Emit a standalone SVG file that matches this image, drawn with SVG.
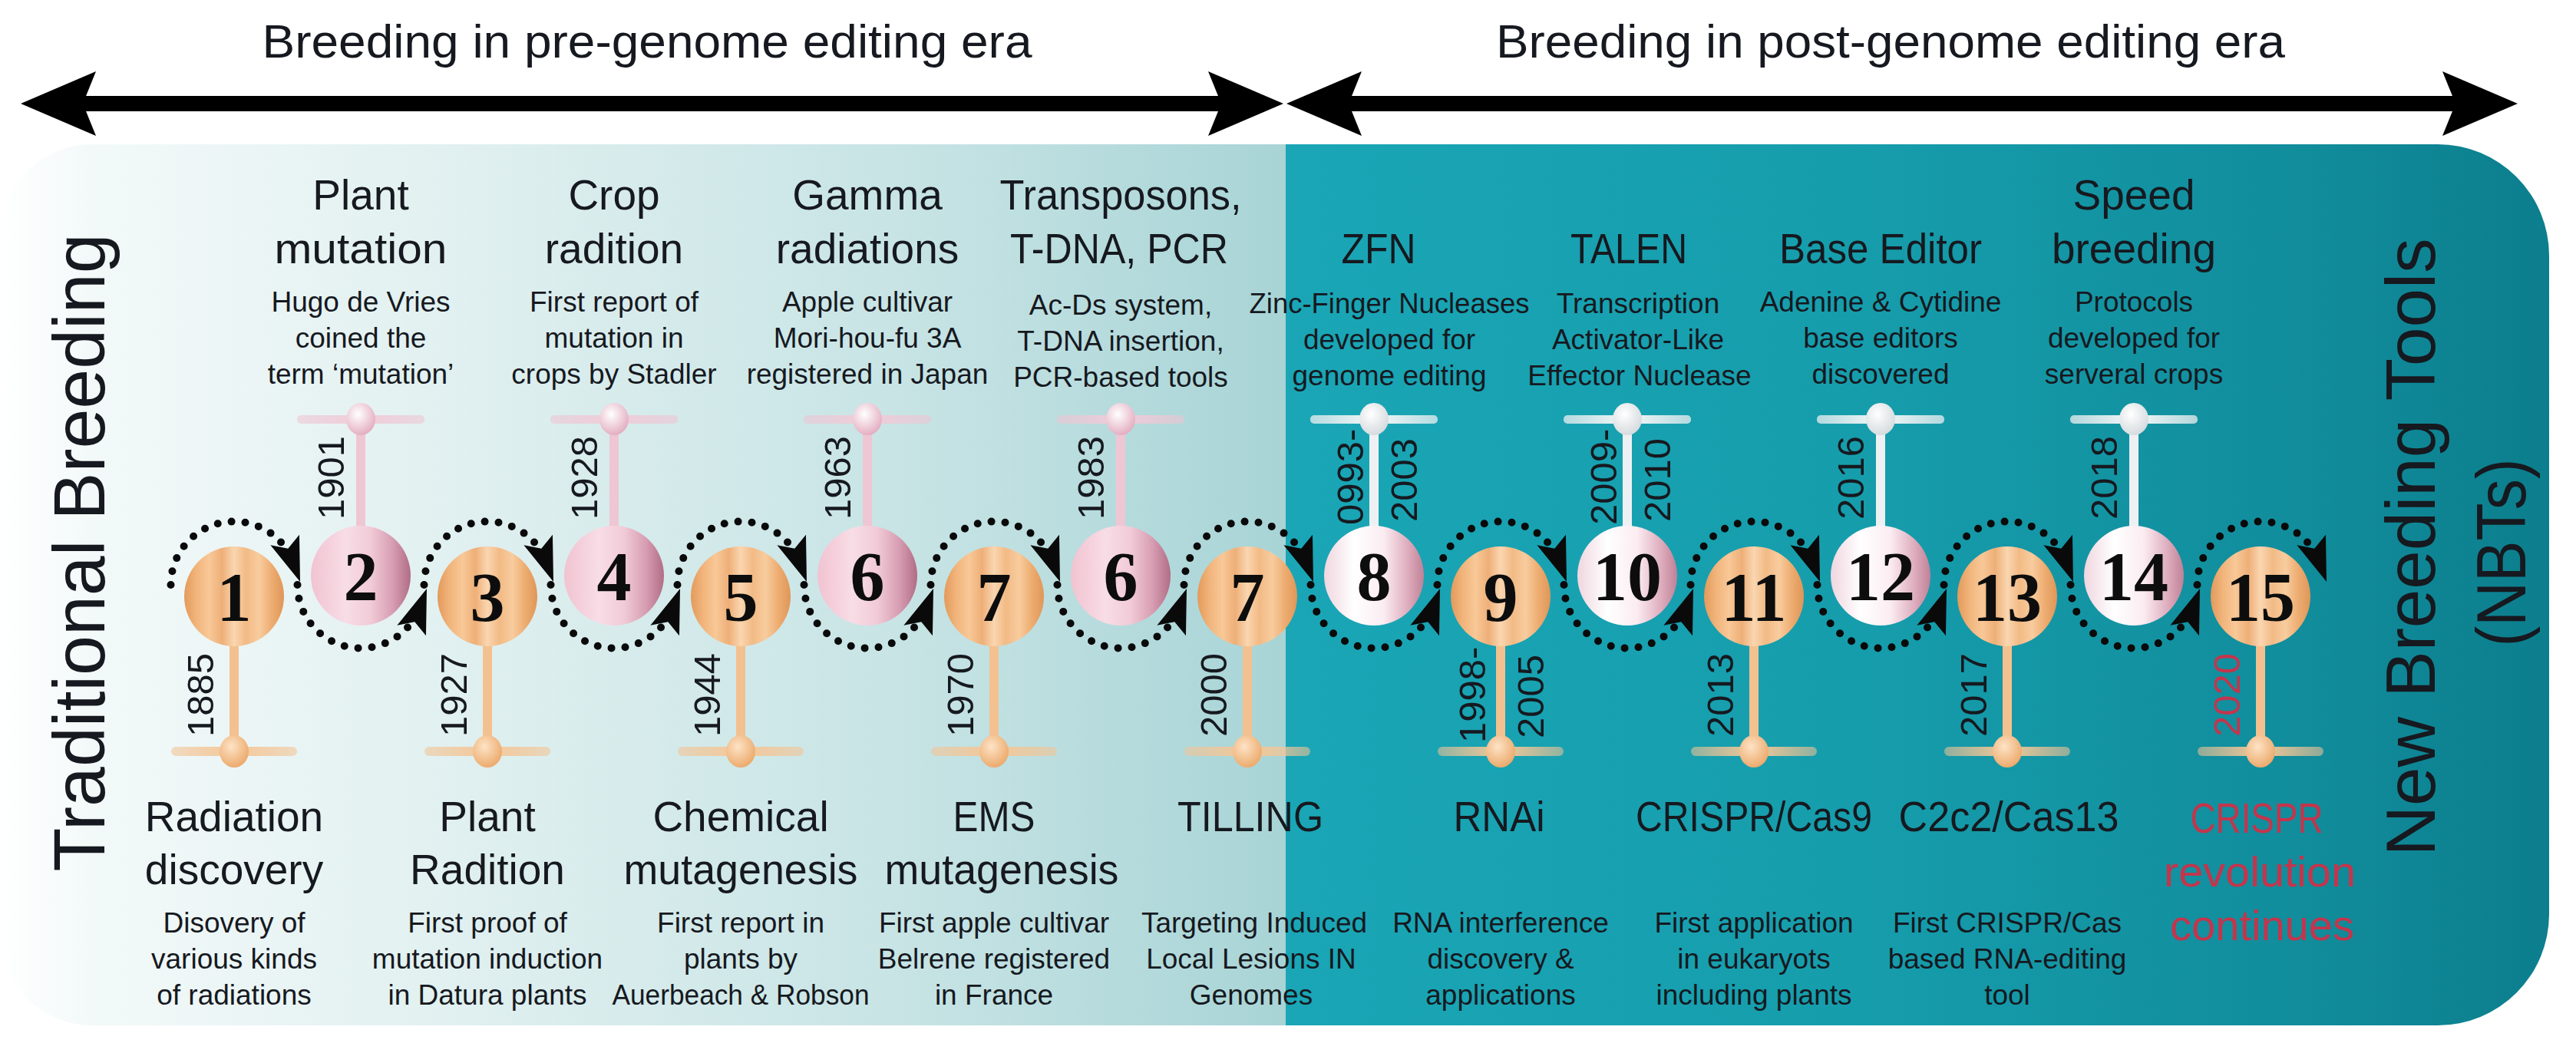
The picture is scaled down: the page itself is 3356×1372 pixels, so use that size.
<svg xmlns="http://www.w3.org/2000/svg" width="3356" height="1372" viewBox="0 0 3356 1372">
<defs>
<style>
.t{font-family:"Liberation Sans",Arial,sans-serif;fill:#16191f;text-anchor:middle}
.ti{font-size:55px}
.de{font-size:37px}
.yr{font-size:49px;text-anchor:start}
.nm{font-family:"Liberation Serif","Times New Roman",serif;font-weight:bold;font-size:90px;fill:#0d0d0d;text-anchor:middle}
.red{fill:#c4354c}
.big{font-size:94px}
.hd{font-size:62px}
.co{fill:url(#gO)}
.cp{fill:url(#gP)}
.cw{fill:url(#gW)}
.so{fill:#f3c18f}
.sp{fill:#efc6d3}
.sw{fill:#eef1f3}
.bo{fill:url(#bO)}
.bp{fill:url(#bP)}
.bw{fill:url(#bW)}
.ko{fill:url(#kO)}
.kp{fill:url(#kP)}
.kw{fill:url(#kW)}
.dot{fill:none;stroke:#0a0a0a;stroke-width:10;stroke-linecap:round;stroke-dasharray:0 18}
.ah{fill:#0a0a0a}
</style>
<clipPath id="panelClip">
<path d="M120,188 H3176 A145,145 0 0 1 3321,333 V1191 A145,145 0 0 1 3176,1336 H120 A120,120 0 0 1 0,1216 V308 A120,120 0 0 1 120,188 Z"/>
</clipPath>
<linearGradient id="bgL" gradientUnits="userSpaceOnUse" x1="0" y1="0" x2="1675" y2="0">
<stop offset="0" stop-color="#ffffff"/>
<stop offset="0.07" stop-color="#f3f9f9"/>
<stop offset="0.35" stop-color="#e1f0f0"/>
<stop offset="0.72" stop-color="#c6e3e4"/>
<stop offset="1" stop-color="#a8d4d6"/>
</linearGradient>
<linearGradient id="bgR" gradientUnits="userSpaceOnUse" x1="1675" y1="0" x2="3321" y2="0">
<stop offset="0" stop-color="#1aa6b6"/>
<stop offset="0.45" stop-color="#169dac"/>
<stop offset="0.8" stop-color="#118d9c"/>
<stop offset="1" stop-color="#0c7e8d"/>
</linearGradient>
<linearGradient id="gO" x1="0" y1="0" x2="1" y2="0">
<stop offset="0" stop-color="#e39a5b"/>
<stop offset="0.12" stop-color="#f1b47b"/>
<stop offset="0.25" stop-color="#f8c897"/>
<stop offset="0.38" stop-color="#eeaf78"/>
<stop offset="0.5" stop-color="#fad6b0"/>
<stop offset="0.62" stop-color="#f2ba85"/>
<stop offset="0.75" stop-color="#f8cc9e"/>
<stop offset="0.88" stop-color="#edac70"/>
<stop offset="1" stop-color="#df9658"/>
</linearGradient>
<linearGradient id="gP" x1="0" y1="0" x2="1" y2="0">
<stop offset="0" stop-color="#f1c3d1"/>
<stop offset="0.35" stop-color="#f8dde6"/>
<stop offset="0.6" stop-color="#f1cbd7"/>
<stop offset="0.82" stop-color="#d79db2"/>
<stop offset="1" stop-color="#b06d86"/>
</linearGradient>
<linearGradient id="gW" x1="0" y1="0" x2="1" y2="0">
<stop offset="0" stop-color="#f0d6df"/>
<stop offset="0.3" stop-color="#ffffff"/>
<stop offset="0.6" stop-color="#fbecf1"/>
<stop offset="0.85" stop-color="#dcaabb"/>
<stop offset="1" stop-color="#bf8197"/>
</linearGradient>
<linearGradient id="bO" x1="0" y1="0" x2="1" y2="0">
<stop offset="0" stop-color="#f2c394" stop-opacity="0.55"/>
<stop offset="0.5" stop-color="#f5c898"/>
<stop offset="1" stop-color="#f2c394" stop-opacity="0.55"/>
</linearGradient>
<linearGradient id="bP" x1="0" y1="0" x2="1" y2="0">
<stop offset="0" stop-color="#eec4d2" stop-opacity="0.55"/>
<stop offset="0.5" stop-color="#f1cdd9"/>
<stop offset="1" stop-color="#eec4d2" stop-opacity="0.55"/>
</linearGradient>
<linearGradient id="bW" x1="0" y1="0" x2="1" y2="0">
<stop offset="0" stop-color="#e8eef0" stop-opacity="0.75"/>
<stop offset="0.5" stop-color="#f6f8f9"/>
<stop offset="1" stop-color="#e8eef0" stop-opacity="0.75"/>
</linearGradient>
<radialGradient id="kO" cx="0.4" cy="0.35" r="0.7">
<stop offset="0" stop-color="#fde3c6"/>
<stop offset="1" stop-color="#eba767"/>
</radialGradient>
<radialGradient id="kP" cx="0.4" cy="0.35" r="0.7">
<stop offset="0" stop-color="#ffffff"/>
<stop offset="1" stop-color="#e2a9bd"/>
</radialGradient>
<radialGradient id="kW" cx="0.4" cy="0.35" r="0.7">
<stop offset="0" stop-color="#ffffff"/>
<stop offset="1" stop-color="#d3d9dc"/>
</radialGradient>
<path id="arrowHead" d="M0,0 L-58,-20 L-46,0 L-58,20 Z"/>
</defs>

<g id="panel" clip-path="url(#panelClip)">
<rect x="0" y="188" width="1675" height="1148" fill="url(#bgL)"/>
<rect x="1675" y="188" width="1646" height="1148" fill="url(#bgR)"/>
</g>

<g id="era-arrows" fill="#000">
<rect x="100" y="125" width="1500" height="20"/>
<path d="M27,135 L125,93 L108,135 L125,177 Z"/>
<path d="M1672,135 L1574,93 L1591,135 L1574,177 Z"/>
<rect x="1750" y="125" width="1450" height="20"/>
<path d="M1676,135 L1774,93 L1757,135 L1774,177 Z"/>
<path d="M3280,135 L3182,93 L3199,135 L3182,177 Z"/>
</g>
<g id="era-labels">
<text class="t hd" x="843" y="75" textLength="1003" lengthAdjust="spacingAndGlyphs">Breeding in pre-genome editing era</text>
<text class="t hd" x="2463" y="75" textLength="1028" lengthAdjust="spacingAndGlyphs">Breeding in post-genome editing era</text>
</g>

<g id="side-labels">
<text class="t big" transform="translate(136,720) rotate(-90)" textLength="831" lengthAdjust="spacingAndGlyphs">Traditional Breeding</text>
<text class="t big" style="font-size:91px" transform="translate(3172,713) rotate(-90)" textLength="805" lengthAdjust="spacingAndGlyphs">New Breeding Tools</text>
<text class="t big" style="font-size:91px" transform="translate(3290,720) rotate(-90)" textLength="245" lengthAdjust="spacingAndGlyphs">(NBTs)</text>
</g>

<g id="connectors">
<path class="dot" d="M222.5,762 A82.5,82.5 0 0 1 369.1,710.1"/>
<path class="dot" d="M387.5,762 A82.5,82.5 0 0 0 534.1,813.9"/>
<path class="dot" d="M552.5,762 A82.5,82.5 0 0 1 699.1,710.1"/>
<path class="dot" d="M717.5,762 A82.5,82.5 0 0 0 864.1,813.9"/>
<path class="dot" d="M882.5,762 A82.5,82.5 0 0 1 1029.1,710.1"/>
<path class="dot" d="M1047.5,762 A82.5,82.5 0 0 0 1194.1,813.9"/>
<path class="dot" d="M1212.5,762 A82.5,82.5 0 0 1 1359.1,710.1"/>
<path class="dot" d="M1377.5,762 A82.5,82.5 0 0 0 1524.1,813.9"/>
<path class="dot" d="M1542.5,762 A82.5,82.5 0 0 1 1689.1,710.1"/>
<path class="dot" d="M1707.5,762 A82.5,82.5 0 0 0 1854.1,813.9"/>
<path class="dot" d="M1872.5,762 A82.5,82.5 0 0 1 2019.1,710.1"/>
<path class="dot" d="M2037.5,762 A82.5,82.5 0 0 0 2184.1,813.9"/>
<path class="dot" d="M2202.5,762 A82.5,82.5 0 0 1 2349.1,710.1"/>
<path class="dot" d="M2367.5,762 A82.5,82.5 0 0 0 2514.1,813.9"/>
<path class="dot" d="M2532.5,762 A82.5,82.5 0 0 1 2679.1,710.1"/>
<path class="dot" d="M2697.5,762 A82.5,82.5 0 0 0 2844.1,813.9"/>
<path class="dot" d="M2862.5,762 A82.5,82.5 0 0 1 3009.1,710.1"/>
<use href="#arrowHead" class="ah" transform="translate(391,758) rotate(70)"/>
<use href="#arrowHead" class="ah" transform="translate(556,767) rotate(-70)"/>
<use href="#arrowHead" class="ah" transform="translate(721,758) rotate(70)"/>
<use href="#arrowHead" class="ah" transform="translate(886,767) rotate(-70)"/>
<use href="#arrowHead" class="ah" transform="translate(1051,758) rotate(70)"/>
<use href="#arrowHead" class="ah" transform="translate(1216,767) rotate(-70)"/>
<use href="#arrowHead" class="ah" transform="translate(1381,758) rotate(70)"/>
<use href="#arrowHead" class="ah" transform="translate(1546,767) rotate(-70)"/>
<use href="#arrowHead" class="ah" transform="translate(1711,758) rotate(70)"/>
<use href="#arrowHead" class="ah" transform="translate(1876,767) rotate(-70)"/>
<use href="#arrowHead" class="ah" transform="translate(2041,758) rotate(70)"/>
<use href="#arrowHead" class="ah" transform="translate(2206,767) rotate(-70)"/>
<use href="#arrowHead" class="ah" transform="translate(2371,758) rotate(70)"/>
<use href="#arrowHead" class="ah" transform="translate(2536,767) rotate(-70)"/>
<use href="#arrowHead" class="ah" transform="translate(2701,758) rotate(70)"/>
<use href="#arrowHead" class="ah" transform="translate(2866,767) rotate(-70)"/>
<use href="#arrowHead" class="ah" transform="translate(3031,758) rotate(70)"/>
</g>

<g id="node-1">
<rect class="so" x="299" y="838" width="12" height="142"/>
<rect class="bo" x="223" y="973" width="164" height="12" rx="6"/>
<ellipse class="ko" cx="305" cy="979" rx="19" ry="21"/>
<circle class="co" cx="305" cy="777" r="65"/>
<text class="nm" x="305" y="809">1</text>
<text class="t yr" transform="translate(278,960) rotate(-90)">1885</text>
<text class="t ti" x="305" y="1083">Radiation</text>
<text class="t ti" x="305" y="1152">discovery</text>
<text class="t de" x="305" y="1215">Disovery of</text>
<text class="t de" x="305" y="1262">various kinds</text>
<text class="t de" x="305" y="1309">of radiations</text>
</g>

<g id="node-2">
<rect class="sp" x="464" y="546" width="12" height="142"/>
<rect class="bp" x="387" y="541" width="166" height="11" rx="5"/>
<ellipse class="kp" cx="470" cy="546" rx="19" ry="21"/>
<circle class="cp" cx="470" cy="750" r="65"/>
<text class="nm" x="470" y="782">2</text>
<text class="t yr" transform="translate(448,677) rotate(-90)">1901</text>
<text class="t ti" x="470" y="273">Plant</text>
<text class="t ti" x="470" y="343" textLength="225" lengthAdjust="spacingAndGlyphs">mutation</text>
<text class="t de" x="470" y="406">Hugo de Vries</text>
<text class="t de" x="470" y="453">coined the</text>
<text class="t de" x="470" y="500">term ‘mutation’</text>
</g>

<g id="node-3">
<rect class="so" x="629" y="838" width="12" height="142"/>
<rect class="bo" x="553" y="973" width="164" height="12" rx="6"/>
<ellipse class="ko" cx="635" cy="979" rx="19" ry="21"/>
<circle class="co" cx="635" cy="777" r="65"/>
<text class="nm" x="635" y="809">3</text>
<text class="t yr" transform="translate(608,960) rotate(-90)">1927</text>
<text class="t ti" x="635" y="1083">Plant</text>
<text class="t ti" x="635" y="1152">Radition</text>
<text class="t de" x="635" y="1215">First proof of</text>
<text class="t de" x="635" y="1262">mutation induction</text>
<text class="t de" x="635" y="1309">in Datura plants</text>
</g>

<g id="node-4">
<rect class="sp" x="794" y="546" width="12" height="142"/>
<rect class="bp" x="717" y="541" width="166" height="11" rx="5"/>
<ellipse class="kp" cx="800" cy="546" rx="19" ry="21"/>
<circle class="cp" cx="800" cy="750" r="65"/>
<text class="nm" x="800" y="782">4</text>
<text class="t yr" transform="translate(778,677) rotate(-90)">1928</text>
<text class="t ti" x="800" y="273">Crop</text>
<text class="t ti" x="800" y="343">radition</text>
<text class="t de" x="800" y="406">First report of</text>
<text class="t de" x="800" y="453">mutation in</text>
<text class="t de" x="800" y="500">crops by Stadler</text>
</g>

<g id="node-5">
<rect class="so" x="959" y="838" width="12" height="142"/>
<rect class="bo" x="883" y="973" width="164" height="12" rx="6"/>
<ellipse class="ko" cx="965" cy="979" rx="19" ry="21"/>
<circle class="co" cx="965" cy="777" r="65"/>
<text class="nm" x="965" y="809">5</text>
<text class="t yr" transform="translate(938,960) rotate(-90)">1944</text>
<text class="t ti" x="965" y="1083">Chemical</text>
<text class="t ti" x="965" y="1152" textLength="305" lengthAdjust="spacingAndGlyphs">mutagenesis</text>
<text class="t de" x="965" y="1215">First report in</text>
<text class="t de" x="965" y="1262">plants by</text>
<text class="t de" x="965" y="1309" textLength="335" lengthAdjust="spacingAndGlyphs">Auerbeach &amp; Robson</text>
</g>

<g id="node-6">
<rect class="sp" x="1124" y="546" width="12" height="142"/>
<rect class="bp" x="1047" y="541" width="166" height="11" rx="5"/>
<ellipse class="kp" cx="1130" cy="546" rx="19" ry="21"/>
<circle class="cp" cx="1130" cy="750" r="65"/>
<text class="nm" x="1130" y="782">6</text>
<text class="t yr" transform="translate(1108,677) rotate(-90)">1963</text>
<text class="t ti" x="1130" y="273">Gamma</text>
<text class="t ti" x="1130" y="343">radiations</text>
<text class="t de" x="1130" y="406">Apple cultivar</text>
<text class="t de" x="1130" y="453">Mori-hou-fu 3A</text>
<text class="t de" x="1130" y="500">registered in Japan</text>
</g>

<g id="node-7">
<rect class="so" x="1289" y="838" width="12" height="142"/>
<rect class="bo" x="1213" y="973" width="164" height="12" rx="6"/>
<ellipse class="ko" cx="1295" cy="979" rx="19" ry="21"/>
<circle class="co" cx="1295" cy="777" r="65"/>
<text class="nm" x="1295" y="809">7</text>
<text class="t yr" transform="translate(1268,960) rotate(-90)">1970</text>
<text class="t ti" x="1295" y="1083" textLength="107" lengthAdjust="spacingAndGlyphs">EMS</text>
<text class="t ti" x="1305" y="1152" textLength="305" lengthAdjust="spacingAndGlyphs">mutagenesis</text>
<text class="t de" x="1295" y="1215">First apple cultivar</text>
<text class="t de" x="1295" y="1262">Belrene registered</text>
<text class="t de" x="1295" y="1309">in France</text>
</g>

<g id="node-6b">
<rect class="sp" x="1454" y="546" width="12" height="142"/>
<rect class="bp" x="1377" y="541" width="166" height="11" rx="5"/>
<ellipse class="kp" cx="1460" cy="546" rx="19" ry="21"/>
<circle class="cp" cx="1460" cy="750" r="65"/>
<text class="nm" x="1460" y="782">6</text>
<text class="t yr" transform="translate(1438,677) rotate(-90)">1983</text>
<text class="t ti" x="1460" y="273" textLength="315" lengthAdjust="spacingAndGlyphs">Transposons,</text>
<text class="t ti" x="1458" y="343" textLength="284" lengthAdjust="spacingAndGlyphs">T-DNA, PCR</text>
<text class="t de" x="1460" y="410">Ac-Ds system,</text>
<text class="t de" x="1460" y="457">T-DNA insertion,</text>
<text class="t de" x="1460" y="504">PCR-based tools</text>
</g>

<g id="node-7b">
<rect class="so" x="1619" y="838" width="12" height="142"/>
<rect class="bo" x="1543" y="973" width="164" height="12" rx="6"/>
<ellipse class="ko" cx="1625" cy="979" rx="19" ry="21"/>
<circle class="co" cx="1625" cy="777" r="65"/>
<text class="nm" x="1625" y="809">7</text>
<text class="t yr" transform="translate(1598,960) rotate(-90)">2000</text>
<text class="t ti" x="1629" y="1083" textLength="190" lengthAdjust="spacingAndGlyphs">TILLING</text>
<text class="t de" x="1634" y="1215">Targeting Induced</text>
<text class="t de" x="1630" y="1262">Local Lesions IN</text>
<text class="t de" x="1630" y="1309">Genomes</text>
</g>

<g id="node-8">
<rect class="sw" x="1784" y="546" width="12" height="142"/>
<rect class="bw" x="1707" y="541" width="166" height="11" rx="5"/>
<ellipse class="kw" cx="1790" cy="546" rx="19" ry="21"/>
<circle class="cw" cx="1790" cy="750" r="65"/>
<text class="nm" x="1790" y="782">8</text>
<text class="t yr" transform="translate(1776,684) rotate(-90)">0993-</text>
<text class="t yr" transform="translate(1846,680) rotate(-90)">2003</text>
<text class="t ti" x="1796" y="343" textLength="97" lengthAdjust="spacingAndGlyphs">ZFN</text>
<text class="t de" x="1810" y="408" textLength="365" lengthAdjust="spacingAndGlyphs">Zinc-Finger Nucleases</text>
<text class="t de" x="1810" y="455">developed for</text>
<text class="t de" x="1810" y="502">genome editing</text>
</g>

<g id="node-9">
<rect class="so" x="1949" y="838" width="12" height="142"/>
<rect class="bo" x="1873" y="973" width="164" height="12" rx="6"/>
<ellipse class="ko" cx="1955" cy="979" rx="19" ry="21"/>
<circle class="co" cx="1955" cy="777" r="65"/>
<text class="nm" x="1955" y="809">9</text>
<text class="t yr" transform="translate(1935,968) rotate(-90)">1998-</text>
<text class="t yr" transform="translate(2011,962) rotate(-90)">2005</text>
<text class="t ti" x="1953" y="1083" textLength="119" lengthAdjust="spacingAndGlyphs">RNAi</text>
<text class="t de" x="1955" y="1215">RNA interference</text>
<text class="t de" x="1955" y="1262">discovery &amp;</text>
<text class="t de" x="1955" y="1309">applications</text>
</g>

<g id="node-10">
<rect class="sw" x="2114" y="546" width="12" height="142"/>
<rect class="bw" x="2037" y="541" width="166" height="11" rx="5"/>
<ellipse class="kw" cx="2120" cy="546" rx="19" ry="21"/>
<circle class="cw" cx="2120" cy="750" r="65"/>
<text class="nm" x="2120" y="782">10</text>
<text class="t yr" transform="translate(2106,684) rotate(-90)">2009-</text>
<text class="t yr" transform="translate(2176,680) rotate(-90)">2010</text>
<text class="t ti" x="2122" y="343" textLength="152" lengthAdjust="spacingAndGlyphs">TALEN</text>
<text class="t de" x="2134" y="408">Transcription</text>
<text class="t de" x="2134" y="455">Activator-Like</text>
<text class="t de" x="2136" y="502">Effector Nuclease</text>
</g>

<g id="node-11">
<rect class="so" x="2279" y="838" width="12" height="142"/>
<rect class="bo" x="2203" y="973" width="164" height="12" rx="6"/>
<ellipse class="ko" cx="2285" cy="979" rx="19" ry="21"/>
<circle class="co" cx="2285" cy="777" r="65"/>
<text class="nm" x="2285" y="809">11</text>
<text class="t yr" transform="translate(2258,960) rotate(-90)">2013</text>
<text class="t ti" x="2285" y="1083" textLength="308" lengthAdjust="spacingAndGlyphs">CRISPR/Cas9</text>
<text class="t de" x="2285" y="1215">First application</text>
<text class="t de" x="2285" y="1262">in eukaryots</text>
<text class="t de" x="2285" y="1309">including plants</text>
</g>

<g id="node-12">
<rect class="sw" x="2444" y="546" width="12" height="142"/>
<rect class="bw" x="2367" y="541" width="166" height="11" rx="5"/>
<ellipse class="kw" cx="2450" cy="546" rx="19" ry="21"/>
<circle class="cw" cx="2450" cy="750" r="65"/>
<text class="nm" x="2450" y="782">12</text>
<text class="t yr" transform="translate(2428,677) rotate(-90)">2016</text>
<text class="t ti" x="2450" y="343" textLength="264" lengthAdjust="spacingAndGlyphs">Base Editor</text>
<text class="t de" x="2450" y="406">Adenine &amp; Cytidine</text>
<text class="t de" x="2450" y="453">base editors</text>
<text class="t de" x="2450" y="500">discovered</text>
</g>

<g id="node-13">
<rect class="so" x="2609" y="838" width="12" height="142"/>
<rect class="bo" x="2533" y="973" width="164" height="12" rx="6"/>
<ellipse class="ko" cx="2615" cy="979" rx="19" ry="21"/>
<circle class="co" cx="2615" cy="777" r="65"/>
<text class="nm" x="2615" y="809">13</text>
<text class="t yr" transform="translate(2588,960) rotate(-90)">2017</text>
<text class="t ti" x="2617" y="1083" textLength="287" lengthAdjust="spacingAndGlyphs">C2c2/Cas13</text>
<text class="t de" x="2615" y="1215">First CRISPR/Cas</text>
<text class="t de" x="2615" y="1262">based RNA-editing</text>
<text class="t de" x="2615" y="1309">tool</text>
</g>

<g id="node-14">
<rect class="sw" x="2774" y="546" width="12" height="142"/>
<rect class="bw" x="2697" y="541" width="166" height="11" rx="5"/>
<ellipse class="kw" cx="2780" cy="546" rx="19" ry="21"/>
<circle class="cw" cx="2780" cy="750" r="65"/>
<text class="nm" x="2780" y="782">14</text>
<text class="t yr" transform="translate(2758,677) rotate(-90)">2018</text>
<text class="t ti" x="2780" y="273">Speed</text>
<text class="t ti" x="2780" y="343">breeding</text>
<text class="t de" x="2780" y="406">Protocols</text>
<text class="t de" x="2780" y="453">developed for</text>
<text class="t de" x="2780" y="500">serveral crops</text>
</g>

<g id="node-15">
<rect class="so" x="2939" y="838" width="12" height="142"/>
<rect class="bo" x="2863" y="973" width="164" height="12" rx="6"/>
<ellipse class="ko" cx="2945" cy="979" rx="19" ry="21"/>
<circle class="co" cx="2945" cy="777" r="65"/>
<text class="nm" x="2945" y="809">15</text>
<text class="t yr red" transform="translate(2918,960) rotate(-90)">2020</text>
<text class="t ti red" x="2940" y="1085" textLength="173" lengthAdjust="spacingAndGlyphs">CRISPR</text>
<text class="t ti red" x="2944" y="1155" textLength="250" lengthAdjust="spacingAndGlyphs">revolution</text>
<text class="t ti red" x="2947" y="1225" textLength="240" lengthAdjust="spacingAndGlyphs">continues</text>
</g>
</svg>
